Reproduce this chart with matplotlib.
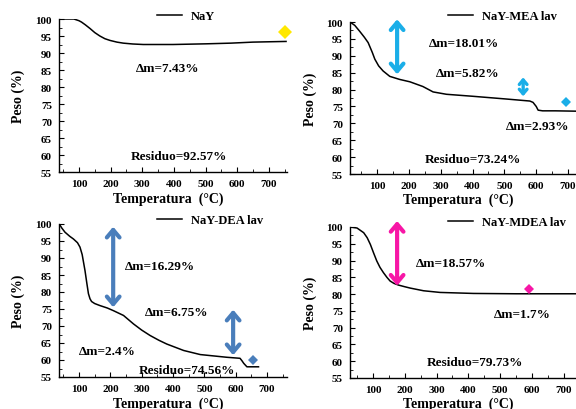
import matplotlib
matplotlib.use("Agg")
import matplotlib.pyplot as plt
from matplotlib.ticker import MultipleLocator

# ---------------- data ----------------
t_nay = [38, 60, 84, 100, 108, 120, 135, 150, 166, 182, 198, 220, 240, 270, 303, 350, 397, 450, 502, 580, 649, 700, 754]
w_nay = [100, 100, 100, 99.5, 99.1, 98.3, 97.2, 96.0, 95.0, 94.2, 93.7, 93.2, 92.9, 92.65, 92.5, 92.5, 92.5, 92.6, 92.7, 92.9, 93.2, 93.3, 93.4]

t_mea = [15, 30, 45, 60, 72, 85, 93, 105, 119, 140, 171, 203, 244, 276, 318, 402, 506, 580, 590, 600, 606, 620, 660, 724]
w_mea = [100, 99.0, 97.3, 95.5, 93.9, 91.0, 89.0, 87.0, 85.5, 83.9, 83.0, 82.3, 80.9, 79.3, 78.6, 78.0, 77.2, 76.6, 76.2, 75.0, 73.9, 73.7, 73.7, 73.6]

t_dea = [37, 45, 55, 70, 82, 95, 103, 110, 119, 125, 130, 135, 140, 150, 167, 190, 210, 242, 274, 300, 327, 355, 380, 434, 487, 572, 614, 620, 626, 636, 673]
w_dea = [100, 98.8, 97.6, 96.4, 95.6, 94.5, 93.2, 91.0, 86.3, 82.5, 79.5, 78.0, 77.2, 76.6, 76.0, 75.3, 74.5, 73.1, 70.6, 68.8, 67.2, 65.8, 64.7, 62.8, 61.6, 60.8, 60.5, 59.8, 59.0, 58.0, 58.0]

t_mdea = [28, 50, 71, 82, 92, 102, 112, 122, 133, 144, 154, 166, 180, 200, 217, 259, 311, 416, 550, 737]
w_mdea = [100, 99.7, 98.3, 96.8, 94.8, 92.3, 89.9, 88.0, 86.4, 85.0, 83.9, 83.2, 82.7, 82.2, 81.8, 81.0, 80.5, 80.2, 80.1, 80.1]

labels = ["NaY", "NaY-MEA lav", "NaY-DEA lav", "NaY-MDEA lav"]
xlims = [(37, 757), (15, 725), (36, 764), (28, 738)]

# annotation texts and anchor values
texts = [
    [("Δm=7.43%", 381, 85.6), ("Residuo=92.57%", 416, 59.7)],
    [("Δm=18.01%", 373, 93.9), ("Δm=5.82%", 386, 84.8), ("Δm=2.93%", 606, 69.3), ("Residuo=73.24%", 402, 59.4)],
    [("Δm=16.29%", 359, 87.6), ("Δm=6.75%", 413, 74.1), ("Δm=2.4%", 189, 62.5), ("Residuo=74.56%", 445, 57.2)],
    [("Δm=18.57%", 346, 89.4), ("Δm=1.7%", 569, 74.0), ("Residuo=79.73%", 421, 59.7)],
]
# double arrows: (T, y_top, y_bottom, head scale)
arrows = [
    [],
    [(163, 100.8, 84.5, 1.0), (559, 83.6, 78.0, 0.6)],
    [(209, 99.2, 75.5, 1.0), (592, 74.8, 61.4, 1.0)],
    [(176, 101.8, 82.5, 1.0)],
]
small_marks = [
    [(750, 96.2)],
    [(693, 76.2)],
    [(656, 60.1)],
    [(591, 81.5)],
]
arrow_colors = ["#FFE800", "#1AAEE8", "#4A7EBB", "#F716A6"]

series_t = [t_nay, t_mea, t_dea, t_mdea]
series_w = [w_nay, w_mea, w_dea, w_mdea]

# ---------------- figure ----------------
plt.rcParams['font.family'] = ['Liberation Serif', 'DejaVu Serif']
plt.rcParams['font.weight'] = 'bold'

fig = plt.figure(figsize=(5.76, 4.10), dpi=100)
rects = [
    [59/576, 237/410, 228/576, 153/410],
    [350/576, 235/410, 226/576, 152/410],
    [59/576, 32/410, 228/576, 153/410],
    [350/576, 31/410, 226/576, 151/410],
]
leg_pos = [(0.43, 1.02), (0.434, 1.04), (0.43, 1.026), (0.434, 1.033)]

for i in range(4):
    ax = fig.add_axes(rects[i])
    line, = ax.plot(series_t[i], series_w[i], color='black', lw=1.1)
    ax.set_xlim(*xlims[i])
    ax.set_ylim(55, 100)
    ax.set_xticks([100, 200, 300, 400, 500, 600, 700])
    ax.set_yticks(range(55, 101, 5))
    ax.xaxis.set_minor_locator(MultipleLocator(50))
    ax.yaxis.set_minor_locator(MultipleLocator(2.5))
    ax.tick_params(which='major', direction='in', length=3.5, width=0.8, labelsize=8, pad=5)
    ax.tick_params(which='minor', direction='in', length=2, width=0.6)
    for lab in ax.get_xticklabels() + ax.get_yticklabels():
        lab.set_fontweight('bold')
    ax.spines['top'].set_visible(False)
    ax.spines['right'].set_visible(False)
    ax.spines['left'].set_linewidth(1.0)
    ax.spines['bottom'].set_linewidth(1.0)
    ax.patch.set_alpha(0)
    ax.set_xlabel("Temperatura  (°C)", fontsize=10, fontweight='bold')
    ax.set_ylabel("Peso (%)", fontsize=10, fontweight='bold')
    ax.xaxis.set_label_coords(0.48, -0.125)
    ax.yaxis.set_label_coords(-0.147, 0.5)
    ax.legend([line], [labels[i]], loc='center left', bbox_to_anchor=leg_pos[i],
              frameon=False, borderpad=0, borderaxespad=0, handlelength=2.0,
              handletextpad=0.7, prop={'family': 'Liberation Serif', 'weight': 'bold', 'size': 9})
    for (s, x, y) in texts[i]:
        ax.text(x, y, s, ha='center', va='center', fontsize=9.5, fontweight='bold')
    for (x, y1, y2, hs) in arrows[i]:
        ax.annotate('', xy=(x, y1), xytext=(x, y2), annotation_clip=False,
                    arrowprops=dict(arrowstyle='<->,head_length=%.2f,head_width=%.2f' % (0.45 * hs, 0.38 * hs),
                                    lw=3.0 if hs == 1.0 else 2.4, color=arrow_colors[i], mutation_scale=12,
                                    shrinkA=0, shrinkB=0))
    for (x, y) in small_marks[i]:
        ax.plot([x], [y], marker='D', markersize=7 if i == 0 else 5,
                color=arrow_colors[i], clip_on=False, markeredgewidth=0)

fig.savefig("out.png", dpi=100)
